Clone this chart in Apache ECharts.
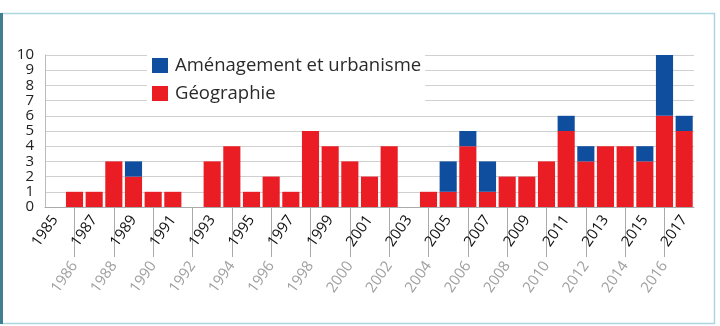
<!DOCTYPE html>
<html>
<head>
<meta charset="utf-8">
<script src="https://cdn.jsdelivr.net/npm/echarts@6/dist/echarts.min.js"></script>
<style>
  html, body { margin: 0; padding: 0; background: #fff; }
  #chart { width: 720px; height: 326px; }
</style>
</head>
<body>
<div id="chart"></div>
<script>
// Années et nombre de thèses par discipline
const annees = ['1985', '1986', '1987', '1988', '1989', '1990', '1991', '1992', '1993', '1994',
    '1995', '1996', '1997', '1998', '1999', '2000', '2001', '2002', '2003', '2004', '2005',
    '2006', '2007', '2008', '2009', '2010', '2011', '2012', '2013', '2014', '2015', '2016', '2017']
const geographie = [0, 1, 1, 3, 2, 1, 1, 0, 3, 4, 1, 2, 1, 5, 4, 3, 2, 4, 0, 1, 1,
    4, 1, 2, 2, 3, 5, 3, 4, 4, 3, 6, 5]
const amenagement = [0, 0, 0, 0, 1, 0, 0, 0, 0, 0, 0, 0, 0, 0, 0, 0, 0, 0, 0, 0, 2,
    1, 2, 0, 0, 0, 1, 1, 0, 0, 1, 4, 1]
const yTicks = [0, 1, 2, 3, 4, 5, 6, 7, 8, 9, 10]

const font = '"Open Sans", "Noto Sans", sans-serif'
const chart = echarts.init(document.getElementById('chart'))
const option = {
    animation: false,
    backgroundColor: '#fff',
    textStyle: { fontFamily: font },
    graphic: [
        {
            type: 'rect',
            shape: { x: 1.5, y: 13.5, width: 713, height: 310 },
            style: { fill: 'none', stroke: '#acd6e0', lineWidth: 1.5 },
            silent: true,
        },
        {
            type: 'line',
            shape: { x1: 1.5, y1: 13, x2: 1.5, y2: 324 },
            style: { stroke: '#3f7f8f', lineWidth: 3 },
            silent: true,
        },
    ],
    grid: { left: 45, right: 26, top: 55, bottom: 119 },
    legend: {
        orient: 'vertical',
        left: 147,
        top: 51,
        padding: [5, 4, 5, 5],
        itemWidth: 16,
        itemHeight: 15,
        itemGap: 9,
        icon: 'rect',
        backgroundColor: '#fff',
        data: ['Aménagement et urbanisme', 'Géographie'],
        textStyle: { fontSize: 18.5, color: '#2a2a2a', fontFamily: font, padding: [0, 0, 0, 2] },
    },
    xAxis: [
        {
            type: 'category',
            data: annees,
            axisLine: { lineStyle: { color: '#aaa' } },
            axisTick: {
                show: true,
                alignWithLabel: true,
                interval: (i) => i % 2 === 1,
                length: 50,
                lineStyle: { color: '#aaa' },
            },
            axisLabel: {
                interval: (i) => i % 2 === 0,
                rotate: 55,
                margin: 10,
                fontSize: 15,
                color: '#111',
                fontFamily: font,
            },
        },
        {
            type: 'category',
            data: annees,
            position: 'bottom',
            axisLine: { show: false },
            axisTick: { show: false },
            axisLabel: {
                interval: (i) => i % 2 === 1,
                rotate: 55,
                margin: 56,
                fontSize: 15,
                color: '#a0a0a0',
                fontFamily: font,
            },
        },
    ],
    yAxis: {
        type: 'value',
        min: yTicks[0],
        max: yTicks[yTicks.length - 1],
        interval: 1,
        axisLine: { show: true, lineStyle: { color: '#bbb' } },
        axisTick: { show: false },
        axisLabel: {
            margin: 11,
            fontSize: 15,
            color: '#222',
            fontFamily: font,
            showMinLabel: true,
            showMaxLabel: true,
            hideOverlap: false,
        },
        splitLine: { lineStyle: { color: '#d0d0d0' } },
    },
    series: [
        {
            name: 'Géographie',
            type: 'bar',
            stack: 'total',
            data: geographie,
            barCategoryGap: '13%',
            itemStyle: { color: '#ea1c24' },
        },
        {
            name: 'Aménagement et urbanisme',
            type: 'bar',
            stack: 'total',
            data: amenagement,
            itemStyle: { color: '#0f4d9e' },
        },
    ],
}
chart.setOption(option)
window.addEventListener('resize', () => chart.resize())
</script>
</body>
</html>
